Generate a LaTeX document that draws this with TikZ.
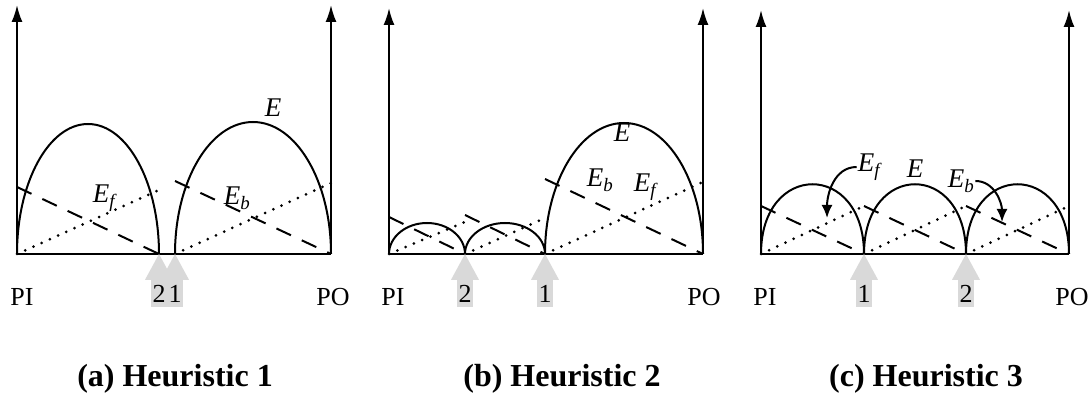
\documentclass[tikz,border=0pt]{standalone}
\usepackage{fontspec}
\setmainfont{Liberation Serif}
\usetikzlibrary{arrows.meta, positioning}
\definecolor{tipgray}{RGB}{217,217,217}

\tikzset{
  axis/.style={line width=2pt, -{Latex[length=17pt,width=11pt]}},
  base/.style={line width=2pt},
  arch/.style={line width=2pt},
  falling/.style={line width=2pt, dash pattern=on 16pt off 12pt},
  rising/.style={line width=3pt, line cap=round, dash pattern=on 0pt off 9pt},
  lbl/.style={font=\fontsize{26}{30}\selectfont, inner sep=1pt},
  elbl/.style={font=\fontsize{27}{30}\selectfont\itshape, inner sep=1pt},
  tag/.style={fill=tipgray, minimum width=16pt, minimum height=27pt, inner sep=0pt, font=\fontsize{26}{30}\selectfont},
  subcap/.style={font=\fontsize{32}{36}\selectfont\bfseries},
  pointer/.style={line width=2pt, -{Latex[length=13pt,width=11pt]}}
}

\begin{document}
\begin{tikzpicture}[x=1pt, y=1pt]
  \useasboundingbox (0,0) rectangle (1092,396);

  % (a) Heuristic 1
  \coordinate (a0) at (17,142);
  \coordinate (a1) at (159,142);
  \coordinate (a2) at (175,142);
  \coordinate (a3) at (331,142);
  \draw[axis] (a0) -- ++(0,249);
  \draw[axis] (a3) -- ++(0,249);
  \draw[base] (a0) -- (a3);
  \draw[arch] (a0) arc[start angle=180, end angle=0, x radius=71, y radius=130];
  \draw[arch] (a2) arc[start angle=180, end angle=0, x radius=78, y radius=132];
  \draw[falling] (17,209) -- (a1);
  \draw[rising] (a0) -- (159,206);
  \draw[falling] (175,215) -- (a3);
  \draw[rising] (a2) -- (331,213);
  \node[elbl] (ea) at (273,288) {E};
  \node[elbl] (efa) at (104,198) {E\textsubscript{f}};
  \node[elbl] (eba) at (237,198) {E\textsubscript{b}};
  \node[tag] (ta2) at (159,102.5) {2};
  \node[tag] (ta1) at (175,102.5) {1};
  \fill[tipgray] ([xshift=-14pt]ta2.north) -- (a1) -- ([xshift=14pt]ta2.north) -- cycle;
  \fill[tipgray] ([xshift=-14pt]ta1.north) -- (a2) -- ([xshift=14pt]ta1.north) -- cycle;
  \node[lbl] (pia) at (22,99) {PI};
  \node[lbl] (poa) at (333,99) {PO};
  \node[subcap] (capa) at (175,17) {(a) Heuristic 1};

  % (b) Heuristic 2
  \coordinate (b0) at (389,142);
  \coordinate (b1) at (465,142);
  \coordinate (b2) at (545,142);
  \coordinate (b3) at (703,142);
  \draw[axis] (b0) -- ++(0,246);
  \draw[axis] (b3) -- ++(0,246);
  \draw[base] (b0) -- (b3);
  \draw[arch] (b0) arc[start angle=180, end angle=0, x radius=38, y radius=31];
  \draw[arch] (b1) arc[start angle=180, end angle=0, x radius=40, y radius=31];
  \draw[arch] (b2) arc[start angle=180, end angle=0, x radius=79, y radius=131];
  \draw[falling] (389,179) -- (b1);
  \draw[rising] (b0) -- (465,174);
  \draw[falling] (465,181) -- (b2);
  \draw[rising] (b1) -- (545,178);
  \draw[falling] (545,217) -- (b3);
  \draw[rising] (b2) -- (703,214);
  \node[elbl] (eb) at (622,263) {E};
  \node[elbl] (ebb) at (600,216) {E\textsubscript{b}};
  \node[elbl] (efb) at (645,209) {E\textsubscript{f}};
  \node[tag] (tb2) at (465,102.5) {2};
  \node[tag] (tb1) at (545,102.5) {1};
  \fill[tipgray] ([xshift=-14pt]tb2.north) -- (b1) -- ([xshift=14pt]tb2.north) -- cycle;
  \fill[tipgray] ([xshift=-14pt]tb1.north) -- (b2) -- ([xshift=14pt]tb1.north) -- cycle;
  \node[lbl] (pib) at (393,99) {PI};
  \node[lbl] (pob) at (704,99) {PO};
  \node[subcap] (capb) at (562,17) {(b) Heuristic 2};

  % (c) Heuristic 3
  \coordinate (c0) at (761,142);
  \coordinate (c1) at (864,142);
  \coordinate (c2) at (966,142);
  \coordinate (c3) at (1069,142);
  \draw[axis] (c0) -- ++(0,244);
  \draw[axis] (c3) -- ++(0,244);
  \draw[base] (c0) -- (c3);
  \foreach \l/\r in {c0/c1, c1/c2, c2/c3} {
    \draw[arch] (\l) .. controls ([yshift=93]\l) and ([yshift=93]\r) .. (\r);
    \draw[falling] ([yshift=48]\l) -- (\r);
    \draw[rising] (\l) -- ([yshift=48]\r);
  }
  \node[elbl] (efc) at (869,229) {E\textsubscript{f}};
  \node[elbl] (ec) at (915,227) {E};
  \node[elbl] (ebc) at (961,215) {E\textsubscript{b}};
  \coordinate (pc1) at (827,178);
  \coordinate (pc2) at (1002,174);
  \draw[pointer] (efc.west) to[out=180, in=90] (pc1);
  \draw[pointer] (ebc.east) to[out=0, in=90] (pc2);
  \node[tag] (tc1) at (864,102.5) {1};
  \node[tag] (tc2) at (966,102.5) {2};
  \fill[tipgray] ([xshift=-14pt]tc1.north) -- (c1) -- ([xshift=14pt]tc1.north) -- cycle;
  \fill[tipgray] ([xshift=-14pt]tc2.north) -- (c2) -- ([xshift=14pt]tc2.north) -- cycle;
  \node[lbl] (pic) at (765,99) {PI};
  \node[lbl] (poc) at (1072,99) {PO};
  \node[subcap] (capc) at (926,17) {(c) Heuristic 3};
\end{tikzpicture}
\end{document}
